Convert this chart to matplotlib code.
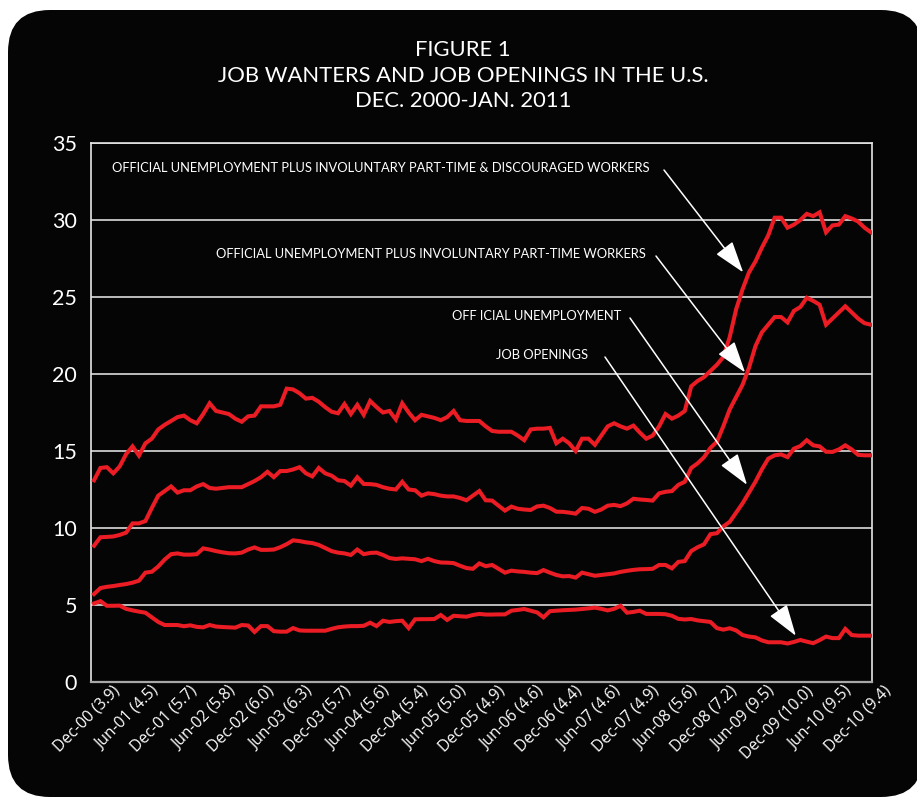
import matplotlib
matplotlib.use("Agg")
import matplotlib.pyplot as plt
from matplotlib.patches import FancyBboxPatch
from matplotlib.transforms import IdentityTransform, ScaledTranslation
import numpy as np

# ---------------- data (millions, monthly Dec-2000 .. Jan-2011) ----------------
u6_discouraged = [13.1, 13.9, 13.95, 13.55, 14.0, 14.8, 15.3, 14.7, 15.5, 15.8,
                  16.4, 16.7, 16.95, 17.2, 17.3, 17.0, 16.8, 17.4, 18.1, 17.6,
                  17.5, 17.4, 17.1, 16.9, 17.25, 17.3, 17.9, 17.9, 17.9, 18.0,
                  19.05, 19.0, 18.75, 18.4, 18.45, 18.2, 17.85, 17.55, 17.45, 18.05,
                  17.4, 18.0, 17.35, 18.25, 17.85, 17.5, 17.6, 17.05, 18.1, 17.5,
                  17.0, 17.35, 17.25, 17.15, 17.0, 17.2, 17.6, 17.0, 16.95, 16.95,
                  16.95, 16.6, 16.3, 16.25, 16.25, 16.25, 16.0, 15.7, 16.4, 16.45,
                  16.45, 16.5, 15.5, 15.8, 15.5, 15.0, 15.8, 15.8, 15.4, 16.0,
                  16.6, 16.8, 16.6, 16.45, 16.65, 16.2, 15.8, 16.0, 16.6, 17.4,
                  17.1, 17.3, 17.6, 19.2, 19.55, 19.8, 20.2, 20.6, 21.1, 22.4,
                  24.2, 25.5, 26.6, 27.3, 28.2, 29.0, 30.15, 30.15, 29.5, 29.7,
                  30.0, 30.4, 30.25, 30.5, 29.2, 29.65, 29.7, 30.25, 30.1, 29.9,
                  29.5, 29.2]

u_parttime = [8.85, 9.4, 9.42, 9.45, 9.55, 9.7, 10.3, 10.3, 10.45, 11.3,
              12.1, 12.4, 12.7, 12.3, 12.45, 12.45, 12.7, 12.85, 12.6, 12.55,
              12.6, 12.65, 12.65, 12.65, 12.85, 13.05, 13.3, 13.65, 13.3, 13.7,
              13.7, 13.8, 13.95, 13.55, 13.35, 13.9, 13.55, 13.4, 13.1, 13.05,
              12.75, 13.3, 12.86, 12.85, 12.8, 12.65, 12.55, 12.5, 13.0, 12.5,
              12.45, 12.1, 12.25, 12.2, 12.1, 12.05, 12.05, 11.95, 11.8, 12.1,
              12.4, 11.8, 11.78, 11.45, 11.13, 11.39, 11.25, 11.2, 11.17, 11.4,
              11.45, 11.3, 11.06, 11.05, 11.0, 10.93, 11.3, 11.25, 11.05, 11.2,
              11.45, 11.5, 11.42, 11.6, 11.9, 11.85, 11.82, 11.78, 12.25, 12.35,
              12.4, 12.8, 13.0, 13.9, 14.2, 14.6, 15.2, 15.6, 16.6, 17.7,
              18.5, 19.3, 20.4, 21.8, 22.7, 23.2, 23.7, 23.7, 23.35, 24.1,
              24.35, 24.95, 24.75, 24.5, 23.2, 23.6, 24.0, 24.4, 24.0, 23.6,
              23.3, 23.2]

official_unemp = [5.71, 6.1, 6.18, 6.23, 6.3, 6.36, 6.45, 6.58, 7.1, 7.16,
                  7.5, 7.95, 8.3, 8.35, 8.27, 8.27, 8.3, 8.68, 8.6, 8.5,
                  8.42, 8.36, 8.35, 8.4, 8.6, 8.74, 8.58, 8.58, 8.6, 8.75,
                  8.95, 9.2, 9.15, 9.07, 9.02, 8.9, 8.7, 8.5, 8.4, 8.35,
                  8.25, 8.6, 8.3, 8.38, 8.4, 8.25, 8.05, 7.99, 8.03, 8.0,
                  7.97, 7.85, 8.0, 7.85, 7.76, 7.75, 7.72, 7.55, 7.4, 7.35,
                  7.7, 7.52, 7.6, 7.35, 7.1, 7.23, 7.18, 7.15, 7.1, 7.07,
                  7.27, 7.1, 6.95, 6.86, 6.88, 6.78, 7.1, 7.0, 6.9, 6.95,
                  7.0, 7.05, 7.15, 7.22, 7.28, 7.32, 7.33, 7.35, 7.6, 7.6,
                  7.38, 7.8, 7.85, 8.5, 8.75, 8.94, 9.6, 9.66, 10.1, 10.4,
                  11.0, 11.6, 12.3, 13.0, 13.8, 14.5, 14.72, 14.78, 14.6, 15.15,
                  15.32, 15.7, 15.37, 15.3, 14.95, 14.94, 15.1, 15.37, 15.1, 14.75,
                  14.72, 14.72]

job_openings = [5.1, 5.25, 4.95, 4.95, 4.96, 4.75, 4.65, 4.57, 4.5, 4.2,
                3.9, 3.7, 3.7, 3.7, 3.62, 3.68, 3.58, 3.55, 3.7, 3.6,
                3.57, 3.55, 3.53, 3.7, 3.67, 3.25, 3.63, 3.63, 3.3, 3.27,
                3.27, 3.5, 3.35, 3.33, 3.33, 3.33, 3.33, 3.45, 3.55, 3.6,
                3.63, 3.63, 3.65, 3.85, 3.63, 3.98, 3.9, 3.95, 3.98, 3.5,
                4.07, 4.08, 4.08, 4.09, 4.35, 4.03, 4.3, 4.27, 4.24, 4.35,
                4.42, 4.38, 4.38, 4.39, 4.39, 4.63, 4.68, 4.74, 4.63, 4.52,
                4.2, 4.6, 4.63, 4.66, 4.68, 4.7, 4.74, 4.78, 4.83, 4.75,
                4.65, 4.75, 4.95, 4.5, 4.55, 4.63, 4.42, 4.42, 4.42, 4.4,
                4.3, 4.1, 4.06, 4.09, 4.0, 3.95, 3.9, 3.5, 3.4, 3.49,
                3.35, 3.05, 2.95, 2.9, 2.7, 2.58, 2.58, 2.58, 2.5, 2.6,
                2.73, 2.62, 2.52, 2.72, 2.95, 2.85, 2.85, 3.45, 3.05, 3.01,
                3.01, 3.01]

tick_labels = ['Dec-00 (3.9)', 'Jun-01 (4.5)', 'Dec-01 (5.7)', 'Jun-02 (5.8)',
               'Dec-02 (6.0)', 'Jun-03 (6.3)', 'Dec-03 (5.7)', 'Jun-04 (5.6)',
               'Dec-04 (5.4)', 'Jun-05 (5.0)', 'Dec-05 (4.9)', 'Jun-06 (4.6)',
               'Dec-06 (4.4)', 'Jun-07 (4.6)', 'Dec-07 (4.9)', 'Jun-08 (5.6)',
               'Dec-08 (7.2)', 'Jun-09 (9.5)', 'Dec-09 (10.0)', 'Jun-10 (9.5)',
               'Dec-10 (9.4)']
yticks = [0, 5, 10, 15, 20, 25, 30, 35]

annotations = [
    ("OFFICIAL UNEMPLOYMENT PLUS INVOLUNTARY PART-TIME & DISCOURAGED WORKERS", (112, 168), (664, 170), (101.1, 26.6)),
    ("OFFICIAL UNEMPLOYMENT PLUS INVOLUNTARY PART-TIME WORKERS", (216, 254), (656, 256), (101.4, 20.1)),
    ("OFF ICIAL UNEMPLOYMENT", (452, 316), (630, 318), (101.7, 12.8)),
    ("JOB OPENINGS", (496, 355), (605, 357), (109.3, 3.0)),
]

# ---------------- figure ----------------
W, H = 917, 800
fig = plt.figure(figsize=(W / 100, H / 100), dpi=100, facecolor="white")

box = FancyBboxPatch((8, 3), 915, 787, boxstyle="round,pad=0,rounding_size=42",
                     transform=IdentityTransform(), facecolor="#050505",
                     edgecolor="none", zorder=0)
fig.patches.append(box)

ax = fig.add_axes([91 / W, 1 - 682 / H, (872 - 91) / W, (682 - 143) / H])
ax.set_facecolor("#050505")
ax.set_zorder(1)

x = np.arange(len(u6_discouraged))
red = "#ec1c24"
for series in (u6_discouraged, u_parttime, official_unemp, job_openings):
    ax.plot(x, series, color=red, lw=2.9, solid_joinstyle="miter", zorder=3)

ax.set_xlim(-0.47, 121.16)
ax.set_ylim(0, 35)
ax.set_yticks(yticks)
ax.set_yticklabels([str(v) for v in yticks], fontsize=15.5, color="white",
                   family="Lato")
ax.yaxis.grid(True, color="#bdbdbd", lw=1.4, zorder=1)
ax.tick_params(axis="y", length=0, pad=10)
ax.tick_params(axis="x", length=0, pad=2)

xt = np.arange(0, 121, 6)
ax.set_xticks(xt)
ax.set_xticklabels(tick_labels, rotation=45, ha="right", va="top",
                   rotation_mode="anchor", fontsize=11.3, color="white",
                   family="Open Sans")
offset = ScaledTranslation(18 / 100, 2 / 100, fig.dpi_scale_trans)
for lab in ax.get_xticklabels():
    lab.set_transform(lab.get_transform() + offset)

for side in ("top", "right", "left"):
    ax.spines[side].set_color("#e6e6e6")
    ax.spines[side].set_linewidth(1.2)
ax.spines["bottom"].set_color("#a8a8a8")
ax.spines["bottom"].set_linewidth(1.6)

# title
for i, line in enumerate(["FIGURE 1", "JOB WANTERS AND JOB OPENINGS IN THE U.S.",
                          "DEC. 2000-JAN. 2011"]):
    fig.text(463 / W, 1 - (50 + 25.5 * i) / H, line, ha="center", va="center",
             fontsize=15.8, color="white", family="Lato")

# annotations
for text, (tx, ty), (sx, sy), head in annotations:
    fig.text(tx / W, 1 - ty / H, text, ha="left", va="center", fontsize=9.3,
             color="white", family="Lato")
    ax.annotate("", xy=head, xycoords="data",
                xytext=(sx, H - sy), textcoords="figure pixels",
                arrowprops=dict(arrowstyle="-|>,head_length=1.1,head_width=0.36",
                                mutation_scale=18, lw=1.1, color="white",
                                shrinkA=0, shrinkB=0),
                zorder=5, annotation_clip=False)

fig.savefig("out.png", dpi=100, facecolor="white")
